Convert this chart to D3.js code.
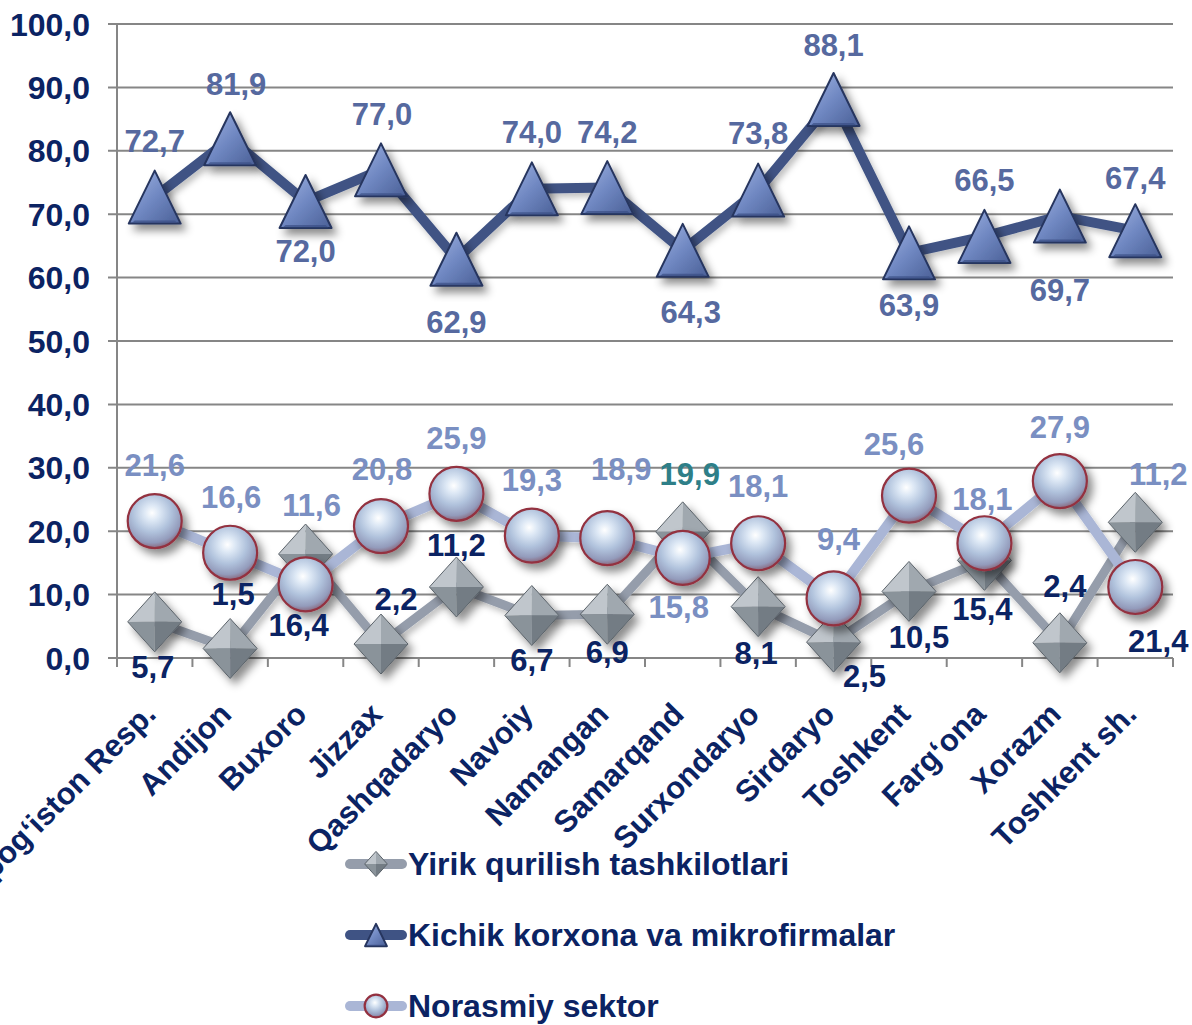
<!DOCTYPE html>
<html>
<head>
<meta charset="utf-8">
<script src="https://cdn.jsdelivr.net/npm/d3@7"></script>
<style>
  html, body { margin: 0; padding: 0; background: #fff; }
  svg { display: block; font-family: "Liberation Sans", Arial, sans-serif; font-weight: bold; }
</style>
</head>
<body>
<svg width="1192" height="1025"></svg>
<script>
const categories = ["Qoraqalpog‘iston Resp.", "Andijon", "Buxoro", "Jizzax", "Qashqadaryo", "Navoiy",
  "Namangan", "Samarqand", "Surxondaryo", "Sirdaryo", "Toshkent", "Farg‘ona", "Xorazm", "Toshkent sh."];
const yirik    = [5.7, 1.5, 16.4, 2.2, 11.2, 6.7, 6.9, 19.9, 8.1, 2.5, 10.5, 15.4, 2.4, 21.4];
const kichik   = [72.7, 81.9, 72.0, 77.0, 62.9, 74.0, 74.2, 64.3, 73.8, 88.1, 63.9, 66.5, 69.7, 67.4];
const norasmiy = [21.6, 16.6, 11.6, 20.8, 25.9, 19.3, 18.9, 15.8, 18.1, 9.4, 25.6, 18.1, 27.9, 11.2];
const yTicks = [0, 10, 20, 30, 40, 50, 60, 70, 80, 90, 100];
const seriesNames = ["Yirik qurilish tashkilotlari", "Kichik korxona va mikrofirmalar", "Norasmiy sektor"];

// label nudges (dx, dy from marker centre), kept apart from the data
const yirikNudge = [[-2,56],[3,-43],[-7,82],[15,-34],[0,-31],[0,55],[0,49],[7,-47],[-2,57],[31,45],[10,57],[-2,60],[5,-46],[23,130]];
const kichikNudge = [[0,-45],[6,-44],[0,60],[1,-45],[0,74],[0,-46],[0,-45],[8,73],[0,-46],[0,-43],[0,63],[0,-45],[0,85],[0,-42]];
const norasmiyNudge = [[0,-45],[1,-45],[6,-68],[1,-46],[0,-45],[0,-45],[14,-58],[-4,60],[0,-46],[5,-48],[-15,-41],[-2,-33],[0,-43],[23,-102]];

const navy = "#0b2363";
const fmt = v => d3.format(".1f")(v).replace(".", ",");

const svg = d3.select("svg");
const defs = svg.append("defs");

const x = d3.scaleBand().domain(categories).range([117, 1173]).padding(0);
const y = d3.scaleLinear().domain([0, 100]).range([658, 24]);
const cx = c => x(c) + x.bandwidth() / 2;

// filters & gradients
const sh = defs.append("filter").attr("id", "sh").attr("x", "-60%").attr("y", "-60%").attr("width", "220%").attr("height", "220%");
sh.append("feDropShadow").attr("dx", 5).attr("dy", 6).attr("stdDeviation", 4).attr("flood-color", "#000").attr("flood-opacity", 0.45);
const shl = defs.append("filter").attr("id", "shl").attr("x", "-20%").attr("y", "-20%").attr("width", "140%").attr("height", "140%");
shl.append("feDropShadow").attr("dx", 3).attr("dy", 4).attr("stdDeviation", 3).attr("flood-color", "#000").attr("flood-opacity", 0.25);

const sph = defs.append("radialGradient").attr("id", "sph").attr("cx", "45%").attr("cy", "35%").attr("r", "65%");
[[0, "#ffffff"], [0.22, "#dde8f5"], [0.55, "#b0c2dc"], [0.85, "#939bbb"], [1, "#8a6a80"]]
  .forEach(s => sph.append("stop").attr("offset", s[0]).attr("stop-color", s[1]));
const tri = defs.append("linearGradient").attr("id", "tri").attr("x1", 0).attr("y1", 0).attr("x2", 1).attr("y2", 1);
[[0, "#a3b6e4"], [0.5, "#7088c2"], [1, "#4a5f96"]]
  .forEach(s => tri.append("stop").attr("offset", s[0]).attr("stop-color", s[1]));

// grid & axes
const grid = svg.append("g");
grid.selectAll("line").data(yTicks).enter().append("line")
  .attr("x1", 108).attr("x2", 1173)
  .attr("y1", d => y(d)).attr("y2", d => y(d))
  .attr("stroke", "#868686").attr("stroke-width", 2);
grid.append("line").attr("x1", 117).attr("x2", 117).attr("y1", y(100)).attr("y2", 667)
  .attr("stroke", "#868686").attr("stroke-width", 2);
grid.selectAll(".xt").data(d3.range(categories.length + 1)).enter().append("line")
  .attr("x1", i => 117 + i * x.step()).attr("x2", i => 117 + i * x.step())
  .attr("y1", 658).attr("y2", 667)
  .attr("stroke", "#868686").attr("stroke-width", 2);

svg.append("g").selectAll("text").data(yTicks).enter().append("text")
  .attr("x", 90).attr("y", d => y(d)).attr("dy", "0.36em")
  .attr("text-anchor", "end").attr("font-size", 32).attr("fill", navy)
  .text(d => fmt(d));

svg.append("g").selectAll("text").data(categories).enter().append("text")
  .attr("transform", c => `translate(${cx(c) + 3}, 716) rotate(-45)`)
  .attr("text-anchor", "end").attr("font-size", 31).attr("fill", navy)
  .text(c => c);

// markers
function diamond(g, s) {
  const w = 27 * s, h = 30 * s;
  const faces = [
    [[0, 0], [-w, 0], [0, -h], "#c0c6cc"],
    [[0, 0], [0, -h], [w, 0], "#a0a8af"],
    [[0, 0], [w, 0], [0, h], "#737c84"],
    [[0, 0], [0, h], [-w, 0], "#8a939a"]
  ];
  faces.forEach(f => g.append("path")
    .attr("d", `M${f[0]}L${f[1]}L${f[2]}Z`).attr("fill", f[3]));
  g.append("path").attr("d", `M0,${-h}L${w},0L0,${h}L${-w},0Z`)
    .attr("fill", "none").attr("stroke", "#5b636a").attr("stroke-width", 1);
}
function triangle(g, s) {
  const w = 26 * s, h = 26.5 * s;
  g.append("path").attr("d", `M0,${-h}L${w},${h}L${-w},${h}Z`)
    .attr("fill", "url(#tri)").attr("stroke", "#26355e").attr("stroke-width", 2).attr("stroke-linejoin", "round");
  g.append("path").attr("d", `M${-w + 6 * s},${h - 3 * s}L${w - 6 * s},${h - 3 * s}L${w - 3 * s},${h - 0.5 * s}L${-w + 3 * s},${h - 0.5 * s}Z`)
    .attr("fill", "#3b4f84").attr("opacity", 0.7);
}
function sphere(g, s) {
  g.append("circle").attr("r", 27 * s)
    .attr("fill", "url(#sph)").attr("stroke", "#93303f").attr("stroke-width", 2.2);
}

const series = [
  {name: seriesNames[0], values: yirik, nudge: yirikNudge, line: "#959dab", width: 9, mark: diamond, label: navy},
  {name: seriesNames[1], values: kichik, nudge: kichikNudge, line: "#3f5384", width: 10, mark: triangle, label: "#56699f"},
  {name: seriesNames[2], values: norasmiy, nudge: norasmiyNudge, line: "#aab6d6", width: 10, mark: sphere, label: "#7a8fc2"}
];

const line = d3.line().x((v, i) => cx(categories[i])).y(v => y(v));

series.forEach(s => {
  const g = svg.append("g");
  g.append("path").attr("d", line(s.values))
    .attr("fill", "none").attr("stroke", s.line).attr("stroke-width", s.width)
    .attr("stroke-linejoin", "round").attr("filter", "url(#shl)");
  s.values.forEach((v, i) => {
    const m = g.append("g").attr("transform", `translate(${cx(categories[i])},${y(v)})`).attr("filter", "url(#sh)");
    s.mark(m, 1);
  });
});

// labels on top
series.forEach(s => {
  svg.append("g").selectAll("text").data(s.values).enter().append("text")
    .attr("x", (v, i) => cx(categories[i]) + s.nudge[i][0])
    .attr("y", (v, i) => y(v) + s.nudge[i][1])
    .attr("text-anchor", "middle").attr("font-size", 31)
    .attr("fill", (v, i) => (s === series[0] && i === 7) ? "#2e7f88" : s.label)
    .text(v => fmt(v));
});

// legend
const legend = svg.append("g");
series.forEach((s, i) => {
  const ly = 864 + i * 71;
  legend.append("line").attr("x1", 350).attr("x2", 402).attr("y1", ly).attr("y2", ly)
    .attr("stroke", s.line).attr("stroke-width", 10).attr("stroke-linecap", "round");
  const m = legend.append("g").attr("transform", `translate(376,${ly})`);
  s.mark(m, 0.42);
  legend.append("text").attr("x", 408).attr("y", ly + 11).attr("font-size", 32).attr("fill", navy).text(s.name);
});
</script>
</body>
</html>
